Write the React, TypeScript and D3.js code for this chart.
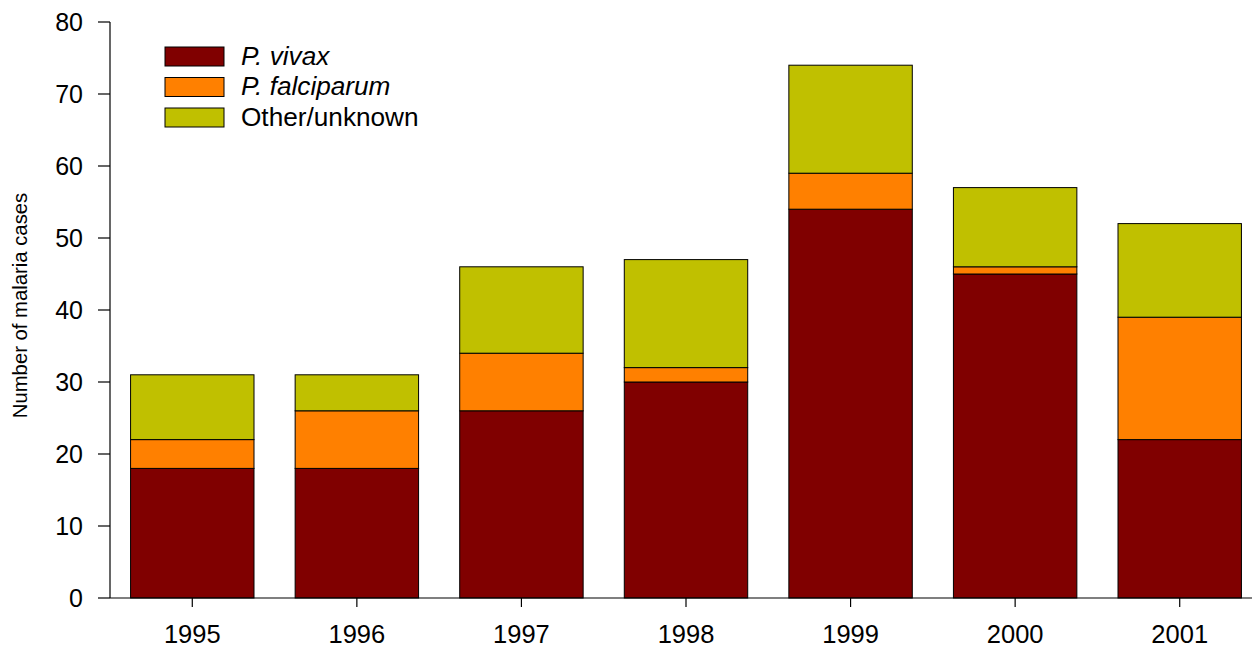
import React from "react";
import * as d3 from "d3";

const years = ["1995", "1996", "1997", "1998", "1999", "2000", "2001"];
const vivax = [18, 18, 26, 30, 54, 45, 22];
const falciparum = [4, 8, 8, 2, 5, 1, 17];
const other = [9, 5, 12, 15, 15, 11, 13];
const seriesNames = ["P. vivax", "P. falciparum", "Other/unknown"];
const seriesColors = ["#800000", "#FF8000", "#C0C000"];
const yTicks = [0, 10, 20, 30, 40, 50, 60, 70, 80];

const W = 1252;
const H = 648;

export default function App() {
  const x = d3.scaleBand<string>().domain(years).range([110, 1262]).paddingInner(0.25).paddingOuter(0.125);
  const y = d3.scaleLinear().domain([0, 80]).range([598, 22]);
  const rows = years.map((yr, i) => ({ year: yr, vivax: vivax[i], falciparum: falciparum[i], other: other[i] }));
  const stack = d3.stack<any>().keys(["vivax", "falciparum", "other"]);
  const layers = stack(rows);
  const font = "'Liberation Sans', Arial, sans-serif";
  return (
    <div style={{ position: "fixed", left: 0, top: 0 }}>
      <svg width={W} height={H} style={{ display: "block", background: "#fff" }} fontFamily={font}>
        {layers.map((layer, li) =>
          layer.map((d, i) => (
            <rect
              key={li + "-" + i}
              x={x(years[i])}
              y={y(d[1])}
              width={x.bandwidth()}
              height={y(d[0]) - y(d[1])}
              fill={seriesColors[li]}
              stroke="#000"
              strokeWidth={1}
            />
          ))
        )}
        {/* y axis */}
        <line x1={110} x2={110} y1={y(80)} y2={y(0)} stroke="#000" strokeWidth={1.2} />
        {yTicks.map((t) => (
          <g key={t}>
            <line x1={98} x2={110} y1={y(t)} y2={y(t)} stroke="#000" strokeWidth={1.2} />
            <text x={83} y={y(t) + 9} textAnchor="end" fontSize={25}>
              {t}
            </text>
          </g>
        ))}
        {/* x axis */}
        <line x1={110} x2={1252} y1={598} y2={598} stroke="#000" strokeWidth={1.2} />
        {years.map((yr) => {
          const cx = (x(yr) as number) + x.bandwidth() / 2;
          return (
            <g key={yr}>
              <line x1={cx} x2={cx} y1={598} y2={607} stroke="#000" strokeWidth={1.2} />
              <text x={cx} y={643} textAnchor="middle" fontSize={25.5}>
                {yr}
              </text>
            </g>
          );
        })}
        <text transform="translate(26.5,305.5) rotate(-90)" textAnchor="middle" fontSize={20.3}>
          Number of malaria cases
        </text>
        {/* legend */}
        {seriesNames.map((n, i) => (
          <g key={n}>
            <rect x={165} y={47 + i * 30.5} width={59} height={19} fill={seriesColors[i]} stroke="#000" strokeWidth={1} />
            <text x={241} y={64.5 + i * 30.5} fontSize={26.2} fontStyle={i < 2 ? "italic" : "normal"}>
              {n}
            </text>
          </g>
        ))}
      </svg>
    </div>
  );
}
